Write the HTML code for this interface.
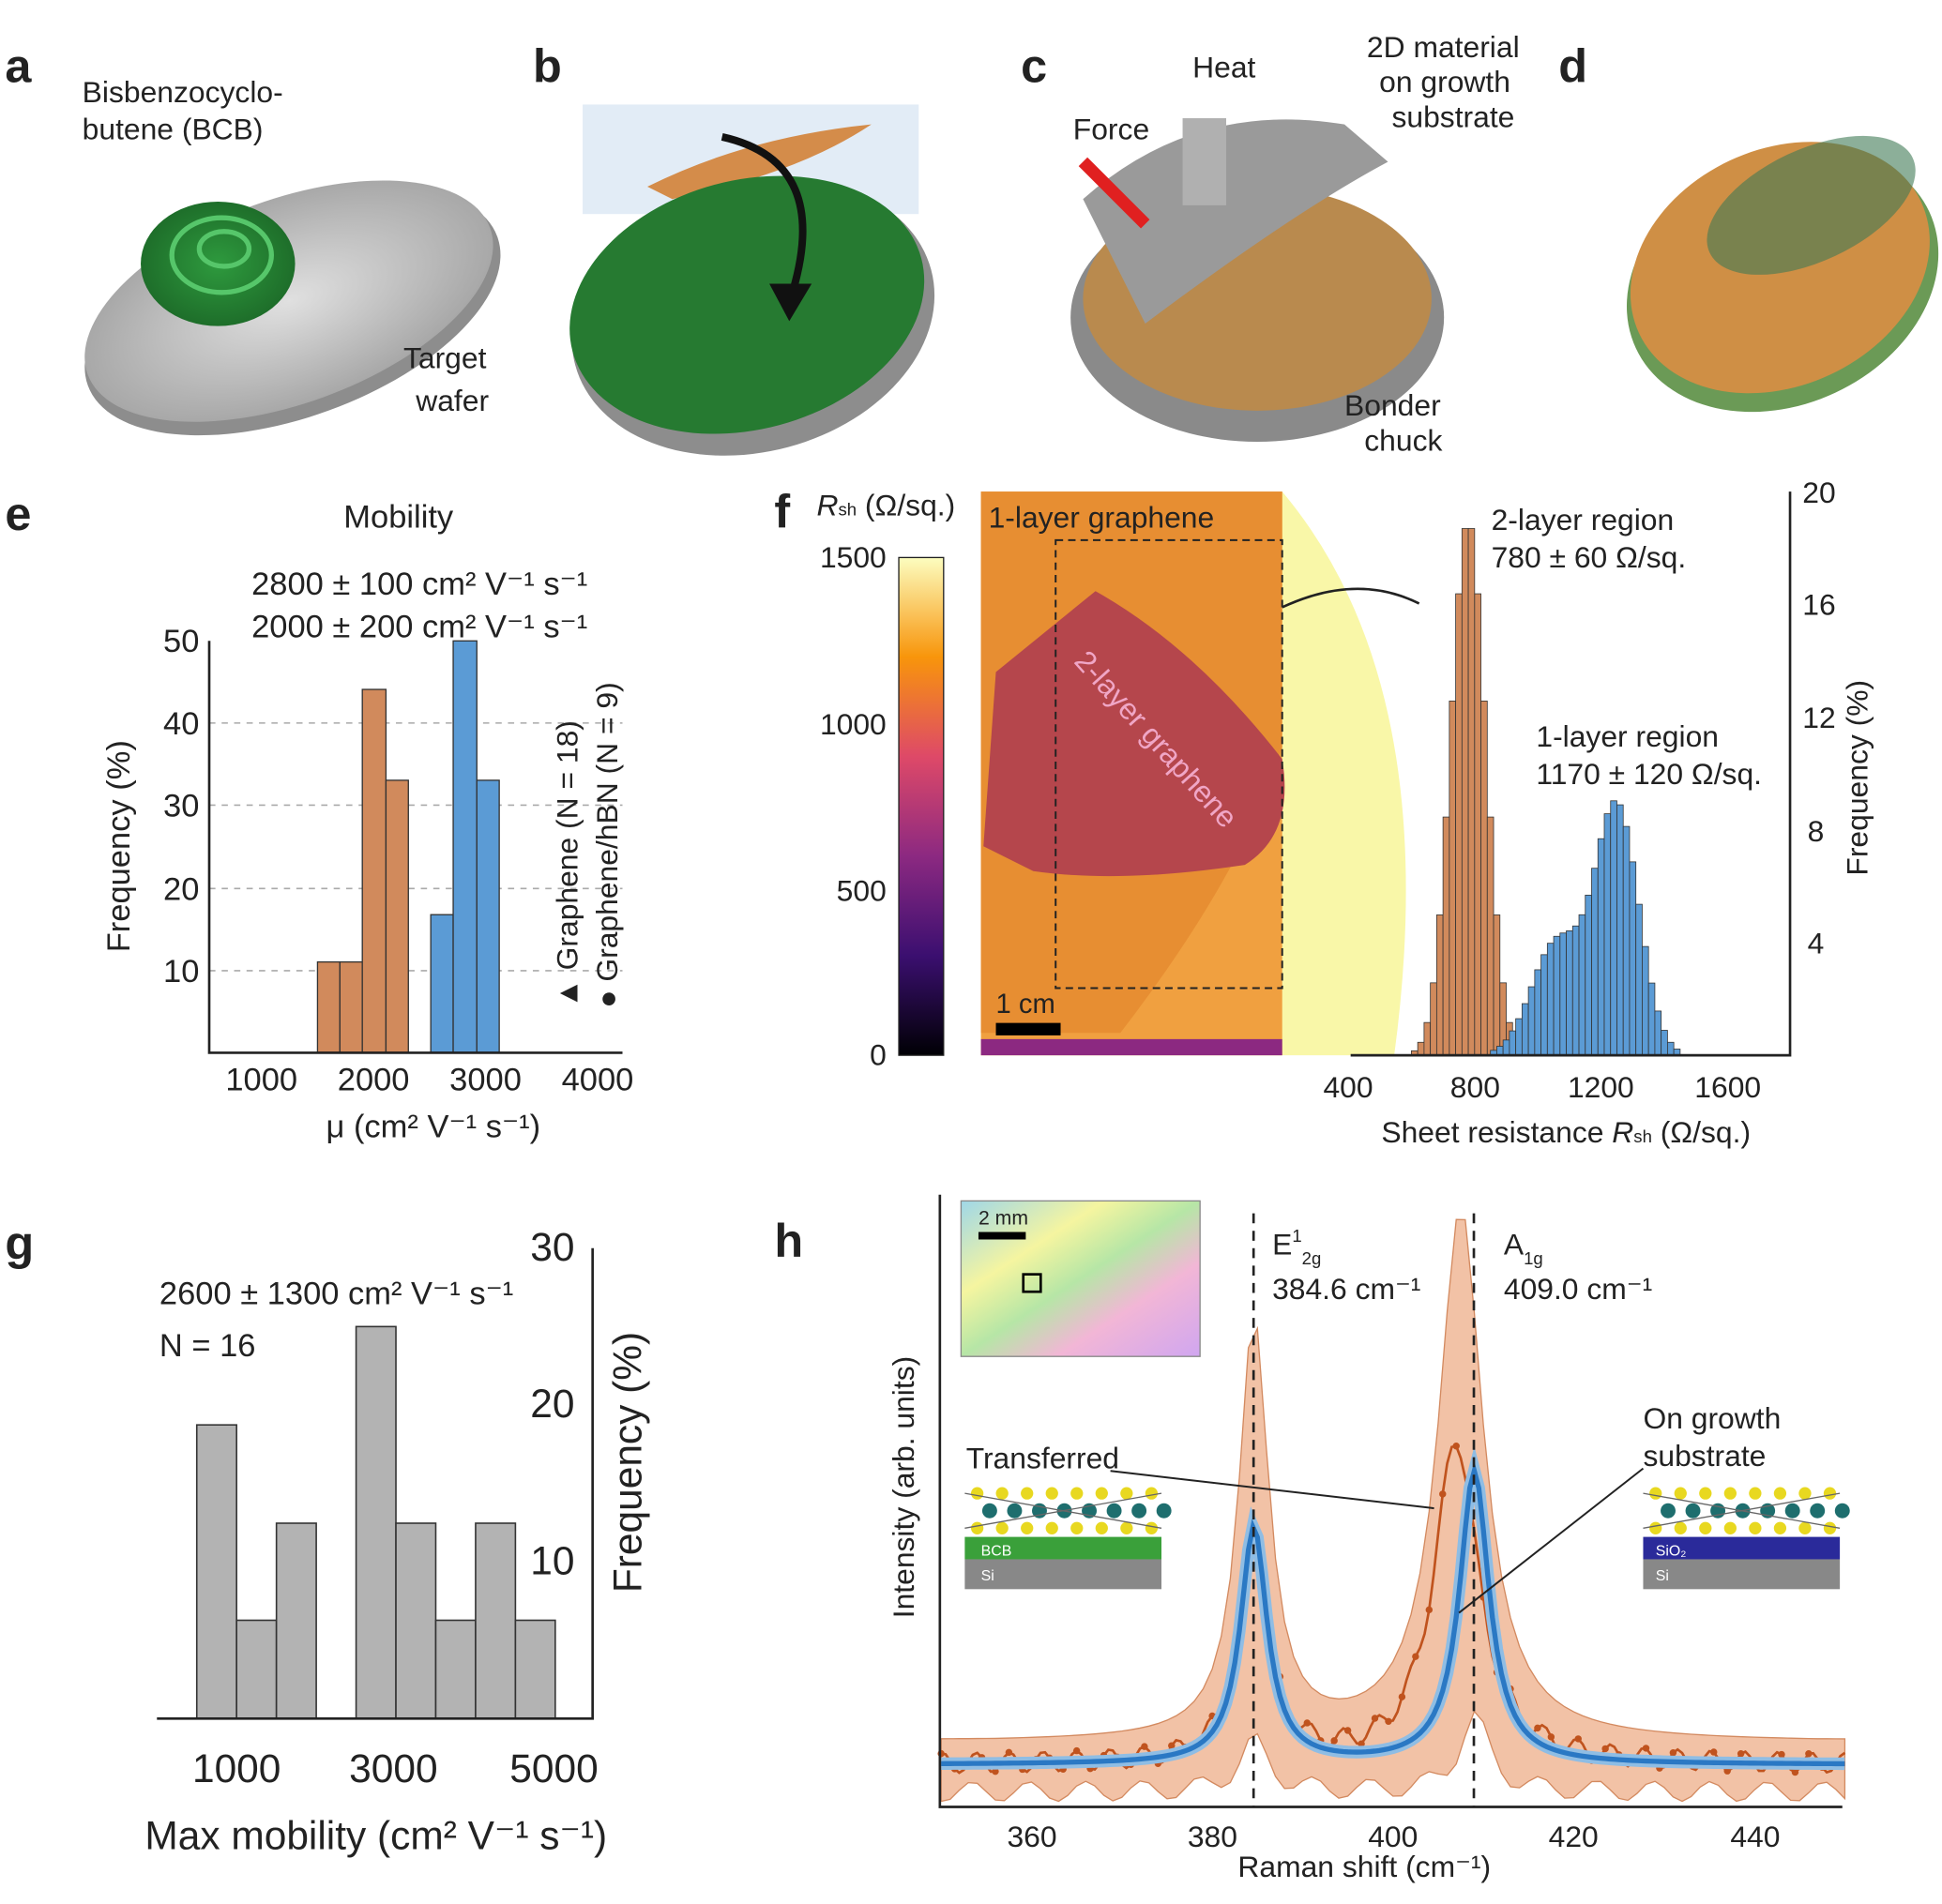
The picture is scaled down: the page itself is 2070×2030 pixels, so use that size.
<!DOCTYPE html>
<html><head><meta charset="utf-8"><style>
html,body{margin:0;padding:0;background:#fff}
svg{display:block}
text{font-family:"Liberation Sans",sans-serif;fill:#222}
</style></head><body>
<svg id="s" width="2070" height="2030" viewBox="0 0 1560 1530" xmlns="http://www.w3.org/2000/svg">
<defs>
<linearGradient id="cb" x1="0" y1="1" x2="0" y2="0">
<stop offset="0" stop-color="#000004"/><stop offset="0.2" stop-color="#3b0f70"/><stop offset="0.4" stop-color="#8c2981"/><stop offset="0.6" stop-color="#de4968"/><stop offset="0.8" stop-color="#f8950b"/><stop offset="1" stop-color="#fcfdbf"/></linearGradient>
<radialGradient id="gw"><stop offset="0" stop-color="#e0e0e0"/><stop offset="1" stop-color="#a8a8a8"/></radialGradient>
<radialGradient id="gg"><stop offset="0" stop-color="#2e9a3e"/><stop offset="1" stop-color="#1e6e2a"/></radialGradient>
<linearGradient id="ins" x1="0" y1="0" x2="1" y2="1"><stop offset="0" stop-color="#9fd7e8"/><stop offset="0.3" stop-color="#f5f5a0"/><stop offset="0.5" stop-color="#b6e6a6"/><stop offset="0.7" stop-color="#f2b6d6"/><stop offset="1" stop-color="#d0a6f0"/></linearGradient>
</defs>
<g font-size="38" font-weight="bold">
<text x="4" y="66">a</text><text x="428" y="66">b</text><text x="820" y="66">c</text><text x="1252" y="66">d</text>
<text x="4" y="426">e</text><text x="622" y="424">f</text><text x="4" y="1012">g</text><text x="622" y="1010">h</text></g>
<!-- a -->
<ellipse cx="235" cy="250" rx="175" ry="85" fill="#8d8d8d" transform="rotate(-20 235 250)"/>
<ellipse cx="232" cy="242" rx="172" ry="82" fill="url(#gw)" transform="rotate(-20 232 242)"/>
<ellipse cx="175" cy="212" rx="62" ry="50" fill="url(#gg)"/>
<ellipse cx="178" cy="205" rx="40" ry="30" fill="none" stroke="#56c66a" stroke-width="4"/>
<ellipse cx="180" cy="200" rx="20" ry="14" fill="none" stroke="#56c66a" stroke-width="4"/>
<g font-size="24"><text x="66" y="82">Bisbenzocyclo-</text><text x="66" y="112">butene (BCB)</text>
<text x="324" y="296">Target</text><text x="334" y="330">wafer</text></g>
<!-- b -->
<rect x="468" y="84" width="270" height="88" fill="#e2ecf6"/>
<path d="M520 150 Q600 110 700 100 Q640 140 540 160 Z" fill="#d48c4a"/>
<ellipse cx="605" cy="255" rx="148" ry="108" fill="#8d8d8d" transform="rotate(-15 605 255)"/>
<ellipse cx="600" cy="245" rx="145" ry="100" fill="#267a31" transform="rotate(-15 600 245)"/>
<path d="M580 110 Q670 130 635 240" fill="none" stroke="#111" stroke-width="6"/>
<polygon points="618,228 652,228 634,258" fill="#111"/>
<!-- c -->
<ellipse cx="1010" cy="255" rx="150" ry="100" fill="#8a8a8a"/>
<ellipse cx="1010" cy="240" rx="140" ry="90" fill="#b98a4e"/>
<path d="M870 160 Q960 80 1080 100 L1115 130 Q1040 170 920 260 Z" fill="#9a9a9a"/>
<rect x="950" y="95" width="35" height="70" fill="#b0b0b0"/>
<line x1="870" y1="130" x2="920" y2="180" stroke="#e02020" stroke-width="10"/>
<g font-size="24"><text x="958" y="62">Heat</text><text x="862" y="112">Force</text>
<text x="1098" y="46">2D material</text><text x="1108" y="74">on growth</text><text x="1118" y="102">substrate</text>
<text x="1080" y="334">Bonder</text><text x="1096" y="362">chuck</text></g>
<!-- d -->
<ellipse cx="1432" cy="225" rx="130" ry="100" fill="#6b9a56" transform="rotate(-25 1432 225)"/>
<ellipse cx="1430" cy="215" rx="125" ry="95" fill="#cf8f45" transform="rotate(-25 1430 215)"/>
<ellipse cx="1455" cy="165" rx="90" ry="45" fill="#3f7a55" opacity="0.6" transform="rotate(-25 1455 165)"/>
<!-- e -->
<text x="276" y="424" font-size="26">Mobility</text>
<text x="202" y="478" font-size="26">2800 ± 100 cm² V⁻¹ s⁻¹</text>
<text x="202" y="512" font-size="26">2000 ± 200 cm² V⁻¹ s⁻¹</text>
<g stroke="#aaa" stroke-dasharray="5,5" stroke-width="1.2">
<line x1="168" y1="581" x2="500" y2="581"/><line x1="168" y1="647" x2="500" y2="647"/><line x1="168" y1="714" x2="500" y2="714"/><line x1="168" y1="780" x2="500" y2="780"/></g>
<g fill="#d18a5c" stroke="#333" stroke-width="1">
<rect x="255" y="773" width="18" height="73"/><rect x="273" y="773" width="18" height="73"/><rect x="291" y="554" width="19" height="292"/><rect x="310" y="627" width="18" height="219"/></g>
<g fill="#5b9bd5" stroke="#333" stroke-width="1">
<rect x="346" y="735" width="18" height="111"/><rect x="364" y="515" width="19" height="331"/><rect x="383" y="627" width="18" height="219"/></g>
<polyline points="168,515 168,846 500,846" fill="none" stroke="#222" stroke-width="2"/>
<g font-size="26" text-anchor="end"><text x="160" y="524">50</text><text x="160" y="590">40</text><text x="160" y="656">30</text><text x="160" y="723">20</text><text x="160" y="789">10</text></g>
<g font-size="26" text-anchor="middle"><text x="210" y="876">1000</text><text x="300" y="876">2000</text><text x="390" y="876">3000</text><text x="480" y="876">4000</text>
<text x="348" y="914">μ (cm² V⁻¹ s⁻¹)</text></g>
<text transform="translate(104 680) rotate(-90)" font-size="26" text-anchor="middle">Frequency (%)</text>
<text transform="translate(464 810) rotate(-90)" font-size="24">▲ Graphene (N = 18)</text>
<text transform="translate(496 810) rotate(-90)" font-size="24">● Graphene/hBN (N = 9)</text>
<!-- f -->
<text x="656" y="414" font-size="24"><tspan font-style="italic">R</tspan><tspan font-size="14">sh</tspan> (Ω/sq.)</text>
<rect x="722" y="448" width="36" height="400" fill="url(#cb)" stroke="#222"/>
<g font-size="24" text-anchor="end"><text x="712" y="456">1500</text><text x="712" y="590">1000</text><text x="712" y="724">500</text><text x="712" y="856">0</text></g>
<path d="M788 395 L1030 395 Q1160 550 1120 848 L788 848 Z" fill="#f9f7a8"/>
<path d="M788 395 L1030 395 L1030 848 L788 848 Z" fill="#f0a040"/>
<path d="M788 395 L1030 395 L1030 600 Q1000 700 900 830 L788 830 Z" fill="#e58a2e" opacity="0.8"/>
<path d="M800 540 L880 475 Q960 520 1030 610 Q1040 670 1000 695 Q900 710 830 700 L790 680 Z" fill="#b5464c"/>
<rect x="788" y="835" width="242" height="13" fill="#8c2981"/>
<rect x="848" y="434" width="182" height="360" fill="none" stroke="#222" stroke-dasharray="6,4" stroke-width="1.5"/>
<text x="794" y="424" font-size="24">1-layer graphene</text>
<text transform="translate(862 532) rotate(48)" font-size="24" style="fill:#f0a6c6">2-layer graphene</text>
<rect x="800" y="822" width="52" height="10" fill="#000"/><text x="800" y="814" font-size="22">1 cm</text>
<path d="M1030 488 Q1090 460 1140 485" fill="none" stroke="#222" stroke-width="2"/>
<g id="fhist"></g>
<polyline points="1085,848 1438,848 1438,395" fill="none" stroke="#222" stroke-width="2"/>
<g font-size="24" text-anchor="middle"><text x="1083" y="882">400</text><text x="1185" y="882">800</text><text x="1286" y="882">1200</text><text x="1388" y="882">1600</text>
<text x="1258" y="918">Sheet resistance <tspan font-style="italic">R</tspan><tspan font-size="14">sh</tspan> (Ω/sq.)</text></g>
<g font-size="24"><text x="1448" y="404">20</text><text x="1448" y="494">16</text><text x="1448" y="585">12</text><text x="1452" y="676">8</text><text x="1452" y="766">4</text>
<text x="1198" y="426">2-layer region</text><text x="1198" y="456">780 ± 60 Ω/sq.</text>
<text x="1234" y="600">1-layer region</text><text x="1234" y="630">1170 ± 120 Ω/sq.</text></g>
<text transform="translate(1500 625) rotate(-90)" font-size="24" text-anchor="middle">Frequency (%)</text>
<!-- g -->
<text x="128" y="1048" font-size="26">2600 ± 1300 cm² V⁻¹ s⁻¹</text>
<text x="128" y="1090" font-size="26">N = 16</text>
<g fill="#b3b3b3" stroke="#333" stroke-width="1.2">
<rect x="158" y="1145" width="32" height="236"/><rect x="190" y="1302" width="32" height="79"/><rect x="222" y="1224" width="32" height="157"/>
<rect x="286" y="1066" width="32" height="315"/><rect x="318" y="1224" width="32" height="157"/><rect x="350" y="1302" width="32" height="79"/>
<rect x="382" y="1224" width="32" height="157"/><rect x="414" y="1302" width="32" height="79"/></g>
<polyline points="126,1381 476,1381 476,1003" fill="none" stroke="#222" stroke-width="2"/>
<g font-size="32" text-anchor="middle"><text x="190" y="1432">1000</text><text x="316" y="1432">3000</text><text x="445" y="1432">5000</text>
<text x="302" y="1486">Max mobility (cm² V⁻¹ s⁻¹)</text></g>
<g font-size="32"><text x="426" y="1013">30</text><text x="426" y="1139">20</text><text x="426" y="1265">10</text></g>
<text transform="translate(515 1175) rotate(-90)" font-size="32" text-anchor="middle">Frequency (%)</text>
<!-- h -->
<g id="hplot"></g>
<rect x="772" y="965" width="192" height="125" fill="url(#ins)" stroke="#888"/>
<rect x="786" y="990" width="38" height="6" fill="#000"/><text x="786" y="984" font-size="16">2 mm</text>
<rect x="822" y="1024" width="14" height="14" fill="none" stroke="#000" stroke-width="2"/>
<polyline points="755,960 755,1452 1480,1452" fill="none" stroke="#222" stroke-width="2"/>
<g stroke="#222" stroke-dasharray="8,6" stroke-width="2"><line x1="1007" y1="975" x2="1007" y2="1452"/><line x1="1184" y1="975" x2="1184" y2="1452"/></g>
<g font-size="24"><text x="1022" y="1008">E<tspan font-size="14" dy="-10">1</tspan><tspan font-size="14" dy="18">2g</tspan></text><text x="1022" y="1044">384.6 cm⁻¹</text>
<text x="1208" y="1008">A<tspan font-size="14" dy="8">1g</tspan></text><text x="1208" y="1044">409.0 cm⁻¹</text>
<text x="776" y="1180">Transferred</text><text x="1320" y="1148">On growth</text><text x="1320" y="1178">substrate</text></g>
<g font-size="24" text-anchor="middle"><text x="829" y="1484">360</text><text x="974" y="1484">380</text><text x="1119" y="1484">400</text><text x="1264" y="1484">420</text><text x="1410" y="1484">440</text>
<text x="1096" y="1508">Raman shift (cm⁻¹)</text></g>
<text transform="translate(734 1195) rotate(-90)" font-size="24" text-anchor="middle">Intensity (arb. units)</text>
<line x1="892" y1="1182" x2="1152" y2="1212" stroke="#222" stroke-width="1.5"/>
<line x1="1320" y1="1180" x2="1172" y2="1296" stroke="#222" stroke-width="1.5"/>
<rect x="775" y="1235" width="158" height="18" fill="#3aa03a"/><rect x="775" y="1253" width="158" height="24" fill="#888"/>
<text x="788" y="1250" font-size="12" style="fill:#fff">BCB</text><text x="788" y="1270" font-size="12" style="fill:#fff">Si</text>
<rect x="1320" y="1235" width="158" height="18" fill="#2a2a9a"/><rect x="1320" y="1253" width="158" height="24" fill="#888"/>
<text x="1330" y="1250" font-size="12" style="fill:#fff">SiO₂</text><text x="1330" y="1270" font-size="12" style="fill:#fff">Si</text>
<g id="mol"></g>
</svg>
<script>
(function(){
var NS="http://www.w3.org/2000/svg";
function el(p,t,a){var e=document.createElementNS(NS,t);for(var k in a)e.setAttribute(k,a[k]);p.appendChild(e);return e;}
var fh=document.getElementById("fhist");
function X(v){return 1083+(v-400)*0.254;}
function Yf(p){return 848-p*22.65;}
for(var v=600;v<1000;v+=20){
 var o=19*Math.exp(-Math.pow((v+10-780)/55,2)/2);
 if(o>0.1)el(fh,"rect",{x:X(v),y:Yf(o),width:5.08,height:848-Yf(o),fill:"#d18a5c",stroke:"#333","stroke-width":0.6});
}
for(var v=850;v<1500;v+=20){
 var b=8.8*Math.exp(-Math.pow((v+10-1250)/70,2)/2)+4*Math.exp(-Math.pow((v+10-1060)/80,2)/2);
 if(b>0.1)el(fh,"rect",{x:X(v),y:Yf(b),width:5.08,height:848-Yf(b),fill:"#5b9bd5",stroke:"#333","stroke-width":0.6});
}
var hp=document.getElementById("hplot");
function Xh(v){return 756+(v-350)*7.26;}
function L(x,c,w){return 1/(1+Math.pow((x-c)/w,2));}
function blue(x){return 1418-190*L(x,384.6,1.8)-235*L(x,409,2.0);}
function orng(x){return 1418-180*L(x,384.6,2.0)-260*L(x,407,3.0)+8*Math.sin(x*1.7);}
var up="",dn="",bl="",or="";
for(var x=350;x<=450;x+=1){
 var bb=blue(x);
 var bandTop=1418-260*L(x,384.6,2)*1.3-330*L(x,407.5,3)*1.3-18;
 up+=(x==350?"M":"L")+Xh(x)+" "+Math.min(bandTop,bb-20);
}
for(var x=450;x>=350;x-=1){dn+="L"+Xh(x)+" "+(1440-40*L(x,384.6,2)-60*L(x,409,2)-8*Math.sin(x));}
el(hp,"path",{d:up+dn+"Z",fill:"#f2c2a6",stroke:"#d38a60","stroke-width":1});
for(var x=350;x<=450;x+=0.5){or+=(x==350?"M":"L")+Xh(x)+" "+orng(x);}
el(hp,"path",{d:or,fill:"none",stroke:"#c0531e","stroke-width":2});
for(var x=350;x<=450;x+=1.5){el(hp,"circle",{cx:Xh(x),cy:orng(x),r:2.8,fill:"#c0531e"});}
for(var x=350;x<=450;x+=0.5){bl+=(x==350?"M":"L")+Xh(x)+" "+blue(x);}
el(hp,"path",{d:bl,fill:"none",stroke:"#8fbde4","stroke-width":10});
el(hp,"path",{d:bl,fill:"none",stroke:"#2a78c4","stroke-width":4});
var m=document.getElementById("mol");
[775,1320].forEach(function(x0){
 for(var i=0;i<8;i++){el(m,"circle",{cx:x0+10+i*20,cy:1200,r:5,fill:"#e8d820"});el(m,"circle",{cx:x0+10+i*20,cy:1228,r:5,fill:"#e8d820"});
 el(m,"circle",{cx:x0+20+i*20,cy:1214,r:6,fill:"#1e6e6e"});}
 el(m,"path",{d:"M"+x0+" 1200 l158 28 M"+x0+" 1228 l158 -28",stroke:"#666","stroke-width":1,fill:"none"});
});
})();
</script>
</body></html>
